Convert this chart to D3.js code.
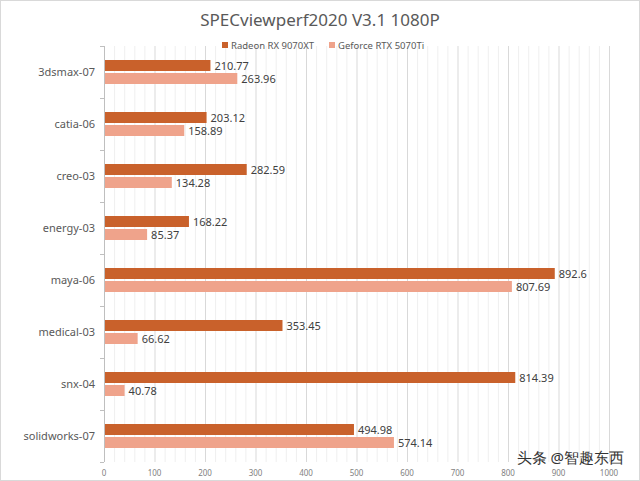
<!DOCTYPE html>
<html><head><meta charset="utf-8">
<script src="https://cdn.jsdelivr.net/npm/d3@7"></script>
<style>body{margin:0;background:#fff}text{font-family:"Noto Sans","Open Sans",sans-serif}</style>
</head><body><svg id="c" width="640" height="481"></svg>
<script>
const categories=["3dsmax-07","catia-06","creo-03","energy-03","maya-06","medical-03","snx-04","solidworks-07"];
const seriesNames=["Radeon RX 9070XT","Geforce RTX 5070Ti"];
const radeon=[210.77,203.12,282.59,168.22,892.6,353.45,814.39,494.98];
const geforce=[263.96,158.89,134.28,85.37,807.69,66.62,40.78,574.14];
const xTicks=[0,100,200,300,400,500,600,700,800,900,1000];
const colors=["#C9612B","#EFA38B"];
const svg=d3.select("#c");
svg.append("rect").attr("x",0.5).attr("y",0.5).attr("width",639).attr("height",480).attr("fill","#fff").attr("stroke","#d9d9d9");
const x=d3.scaleLinear().domain([0,1000]).range([104,609]);
const y=d3.scaleBand().domain(categories).range([46,462]);
const g=svg.append("g");
g.selectAll("line.minor").data(d3.range(0,1001,20)).join("line")
 .attr("x1",d=>x(d)+0.5).attr("x2",d=>x(d)+0.5).attr("y1",46).attr("y2",462)
 .attr("stroke",d=>d%100===0?"#d9d9d9":"#efefef").attr("stroke-width",1);
svg.append("line").attr("x1",x(0)+0.5).attr("x2",x(0)+0.5).attr("y1",46).attr("y2",462).attr("stroke","#bfbfbf");
svg.selectAll("line.tk").data(categories.map(c=>y(c)).concat([462])).join("line")
 .attr("x1",x(0)-4).attr("x2",x(0)).attr("y1",d=>d+0.5).attr("y2",d=>d+0.5).attr("stroke","#bfbfbf");
const bh=11;
categories.forEach((c,i)=>{
  const cy=y(c)+y.bandwidth()/2;
  [radeon[i],geforce[i]].forEach((v,j)=>{
    const yy=j===0?cy-bh-1:cy+1;
    svg.append("rect").attr("x",x(0)+1).attr("y",yy).attr("width",x(v)-x(0)-1).attr("height",bh).attr("fill",colors[j]);
    svg.append("text").attr("x",x(v)+4).attr("y",yy+bh/2+4).attr("font-size",11).attr("fill","#404040").text(v);
  });
  svg.append("text").attr("x",95).attr("y",cy+4).attr("text-anchor","end").attr("font-size",11).attr("fill","#595959").text(c);
});
svg.selectAll("text.xt").data(xTicks).join("text").attr("x",d=>x(d)).attr("y",476).attr("text-anchor","middle")
 .attr("font-size",8).attr("fill","#7f7f7f").text(d=>d);
svg.append("text").attr("x",320).attr("y",26).attr("text-anchor","middle").attr("font-size",17).attr("fill","#595959").text("SPECviewperf2020 V3.1 1080P");
const lg=[{x:222},{x:329}];
seriesNames.forEach((n,i)=>{
  svg.append("rect").attr("x",lg[i].x).attr("y",42).attr("width",6).attr("height",6).attr("fill",colors[i]);
  svg.append("text").attr("x",lg[i].x+9).attr("y",49).attr("font-size",9.5).attr("fill","#595959").text(n);
});
svg.append("text").attr("x",624).attr("y",463).attr("text-anchor","end").attr("font-size",15).attr("fill","#333").attr("font-family","Noto Sans CJK SC").text("头条 @智趣东西");
</script></body></html>
